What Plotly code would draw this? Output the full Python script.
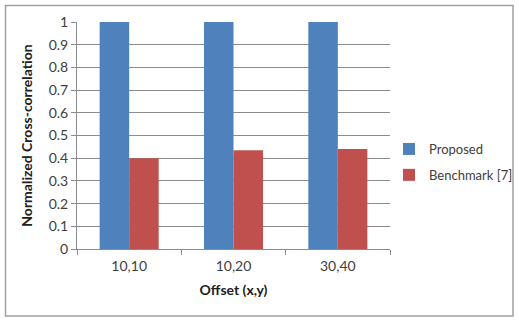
import plotly.graph_objects as go

categories = ["10,10", "10,20", "30,40"]
proposed = [1.0, 1.0, 1.0]
benchmark = [0.40, 0.435, 0.44]
series_names = ["Proposed", "Benchmark [7]"]
colors = ["#4F81BD", "#C0504D"]

FONT = "Lato, 'Open Sans', sans-serif"

fig = go.Figure()
fig.add_trace(go.Bar(x=categories, y=proposed, name=series_names[0], legendgroup="a",
                     marker=dict(color=colors[0], line=dict(width=0))))
fig.add_trace(go.Bar(x=categories, y=benchmark, name=series_names[1], legendgroup="b",
                     marker=dict(color=colors[1], line=dict(width=0))))

L, R, T, B = 77, 390, 22, 249
W, H = 519, 320
pw, ph = R - L, B - T

def px(x):
    return (x - L) / pw

def py(y):
    return (B - y) / ph

fig.update_layout(
    width=W, height=H,
    margin=dict(l=L, r=W - R, t=T, b=H - B, pad=0, autoexpand=False),
    paper_bgcolor="white", plot_bgcolor="white",
    barmode="group", bargap=0.434, bargroupgap=0,
    font=dict(family=FONT, size=13, color="#404040"),
    showlegend=True,
    legend=dict(x=px(389), y=py(134), xanchor="left", yanchor="top",
                font=dict(size=13, color="#404040"), traceorder="grouped",
                tracegroupgap=6,
                itemwidth=30, bgcolor="rgba(0,0,0,0)"),
    xaxis=dict(showline=True, linecolor="#8C8C8C", linewidth=1,
               ticks="outside", tickson="boundaries", ticklen=5, tickcolor="#8C8C8C",
               showgrid=False, tickfont=dict(size=14, color="#404040"),
               ticklabelstandoff=4,
               title=dict(text="<b>Offset (x,y)</b>", font=dict(size=14, color="#202020"), standoff=12)),
    yaxis=dict(range=[0, 1], dtick=0.1, showline=True, linecolor="#8C8C8C", linewidth=1,
               ticks="outside", ticklen=5, tickcolor="#8C8C8C",
               showgrid=True, gridcolor="#8C8C8C", gridwidth=1, zeroline=False,
               tickfont=dict(size=14, color="#404040"),
               title=dict(text="<b>Normalized Cross-correlation</b>", font=dict(size=14, color="#202020"), standoff=12)),
    shapes=[dict(type="rect", xref="paper", yref="paper",
                 x0=px(5.5), x1=px(513), y0=py(316), y1=py(5.5),
                 line=dict(color="#A0A0A0", width=1.5), fillcolor="rgba(0,0,0,0)", layer="below")],
)

fig.write_html("out.html", config={"displayModeBar": False},
               post_script="document.body.style.margin='0';")
